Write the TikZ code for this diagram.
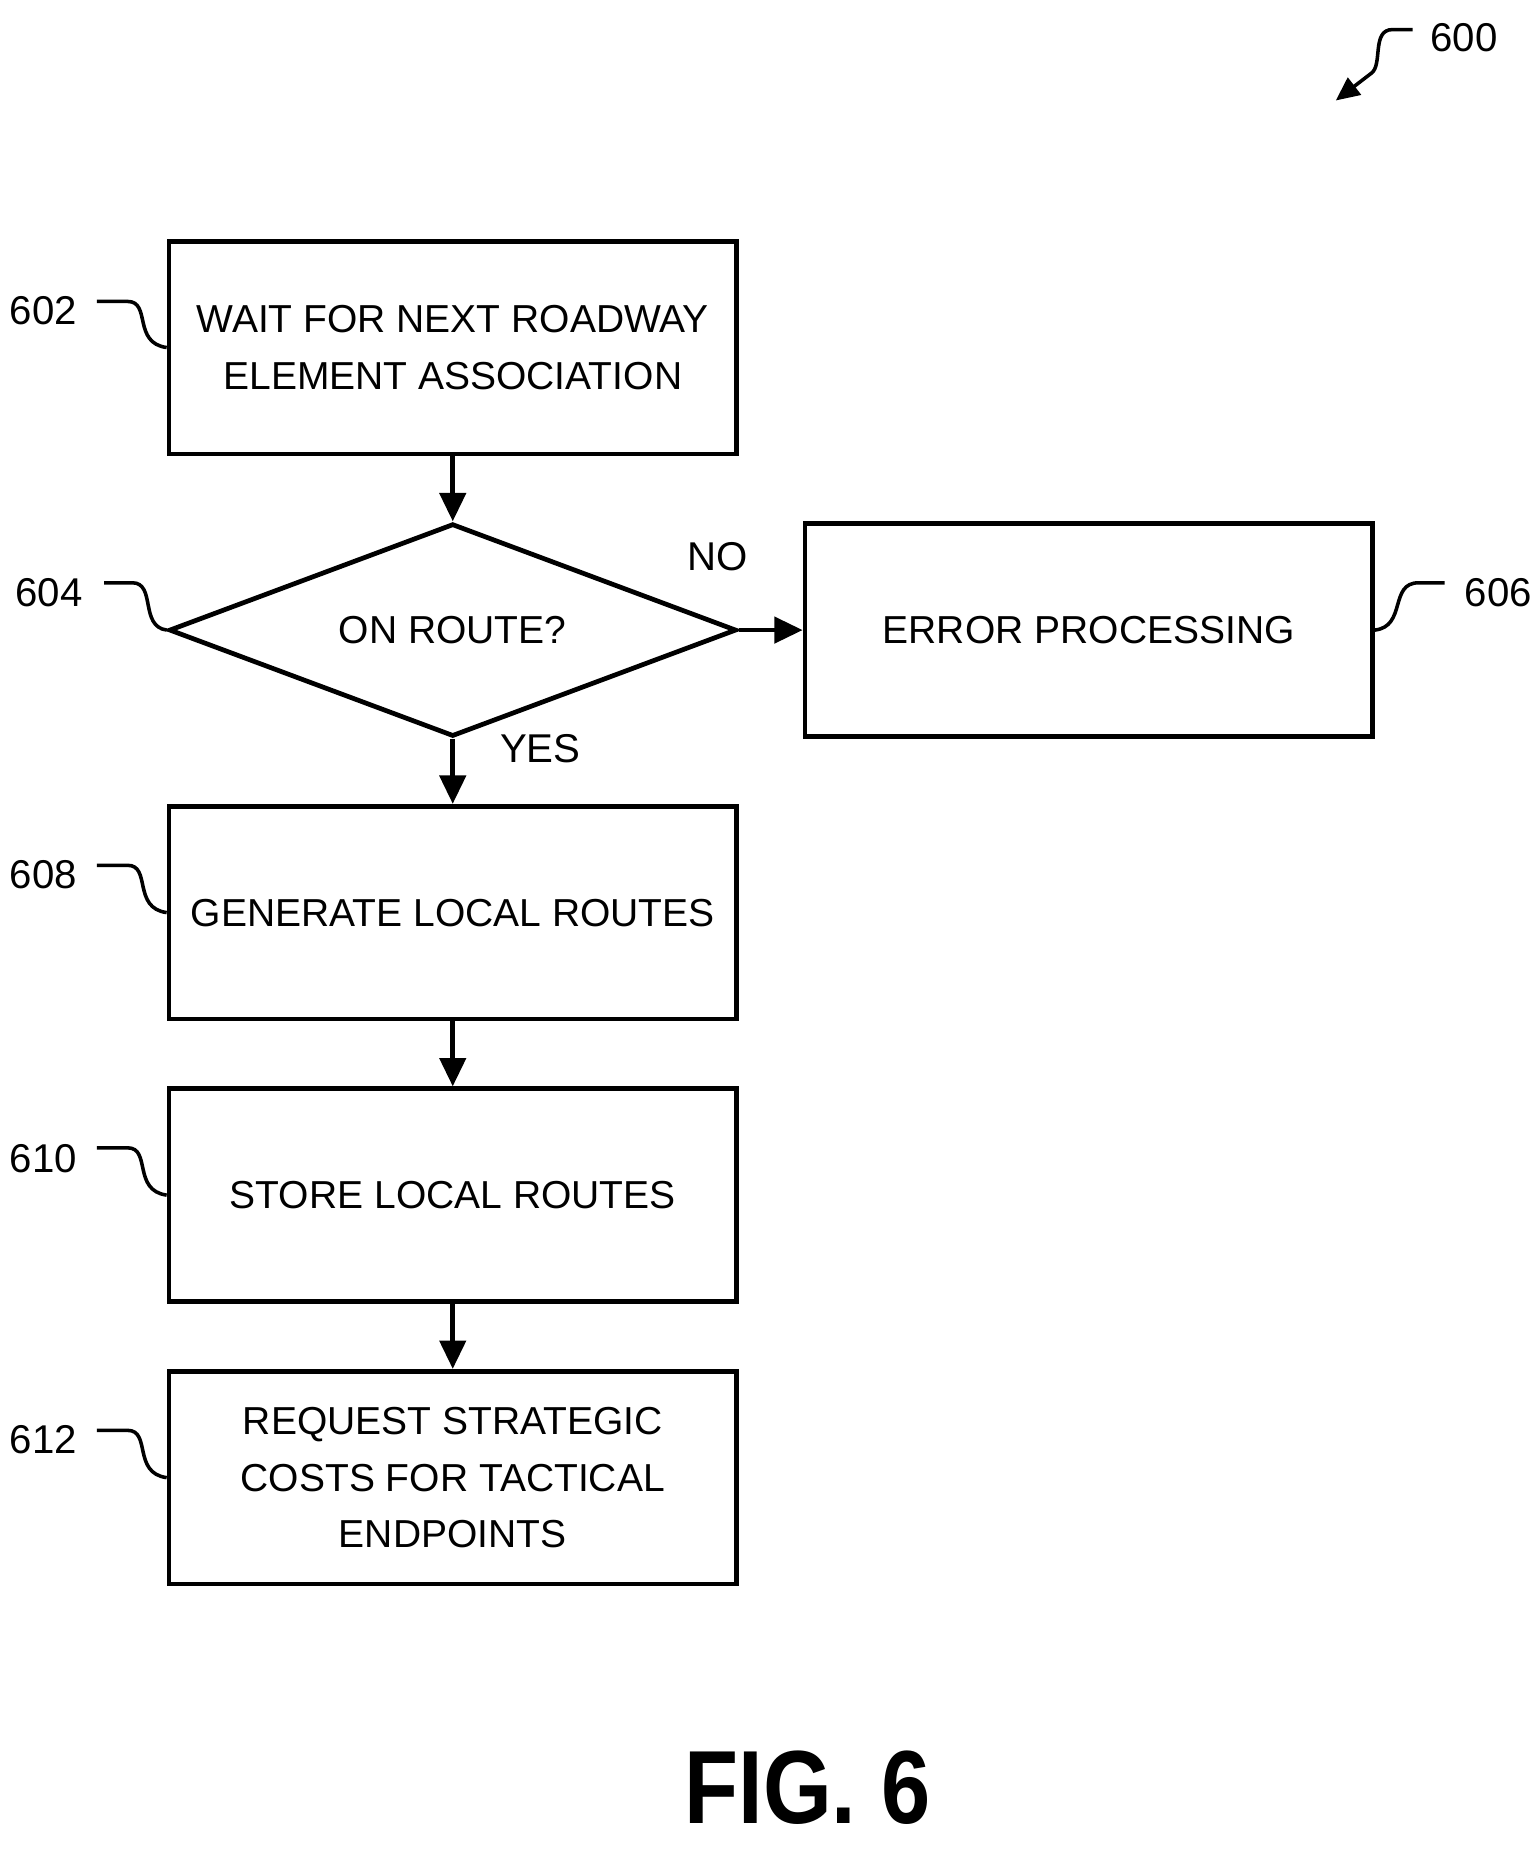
\documentclass[tikz,border=0pt]{standalone}
\usepackage{fontspec}
\setmainfont{Liberation Sans}
\usetikzlibrary{arrows.meta,shapes.geometric}
\begin{document}
\begin{tikzpicture}[x=0.5pt,y=-0.5pt,
  box/.style={draw,line width=2pt,minimum width=240pt,minimum height=90pt,inner sep=0pt,align=center,font=\fontsize{16.5}{24}\selectfont},
  lbl/.style={font=\fontsize{17}{22}\selectfont},
  arr/.style={line width=2pt,-{Triangle[length=12pt,width=11pt]}},
  sq/.style={line width=1.5pt}]
\useasboundingbox (0,0) rectangle (1300,1565);
\node[box] (b602) at (383,294) {WAIT FOR NEXT ROADWAY\\ELEMENT ASSOCIATION};
\node[draw,line width=2pt,diamond,aspect=2.67,minimum width=240pt,minimum height=90pt,inner sep=0pt,font=\fontsize{16.5}{22}\selectfont] (d604) at (383,533) {ON ROUTE?};
\node[box] (b606) at (921,533) {ERROR PROCESSING};
\node[box] (b608) at (383,772) {GENERATE LOCAL ROUTES};
\node[box] (b610) at (383,1011) {STORE LOCAL ROUTES};
\node[box] (b612) at (383,1250) {REQUEST STRATEGIC\\COSTS FOR TACTICAL\\ENDPOINTS};
\draw[arr] (b602) -- (d604);
\draw[arr] (d604) -- (b608);
\draw[arr] (b608) -- (b610);
\draw[arr] (b610) -- (b612);
\draw[arr] (d604.east) -- (b606.west);
\node[lbl] (no) at (607,471) {NO};
\node[lbl] (yes) at (457,633) {YES};
% reference labels
\node[lbl,anchor=east] (l602) at (72,263) {602};
\draw[sq] (82,255) -- (108,255) .. controls (128,255) and (112,290) .. (b602.west);
\node[lbl,anchor=east] (l604) at (77,501) {604};
\draw[sq] (88,493) -- (112,493) .. controls (132,493) and (118,530) .. (d604.west);
\node[lbl,anchor=west] (l606) at (1232,501) {606};
\draw[sq] (b606.east) .. controls (1190,530) and (1175,493) .. (1200,493) -- (1222,493);
\node[lbl,anchor=east] (l608) at (72,740) {608};
\draw[sq] (82,732) -- (108,732) .. controls (128,732) and (112,768) .. (b608.west);
\node[lbl,anchor=east] (l610) at (72,980) {610};
\draw[sq] (82,971) -- (108,971) .. controls (128,971) and (112,1007) .. (b610.west);
\node[lbl,anchor=east] (l612) at (72,1218) {612};
\draw[sq] (82,1210) -- (108,1210) .. controls (128,1210) and (112,1246) .. (b612.west);
\node[lbl,anchor=west] (l600) at (1203,32) {600};
\coordinate (c600) at (1195,25);
\coordinate (t600) at (1130,85);
\draw[line width=1.5pt,-{Triangle[length=10pt,width=9pt]}] (c600) -- (1178,25) .. controls (1160,25) and (1170,55) .. (1160,62) -- (t600);
\node[font=\fontsize{44}{50}\selectfont\bfseries,xscale=0.85] (fig) at (683,1512) {FIG. 6};
\end{tikzpicture}
\end{document}
